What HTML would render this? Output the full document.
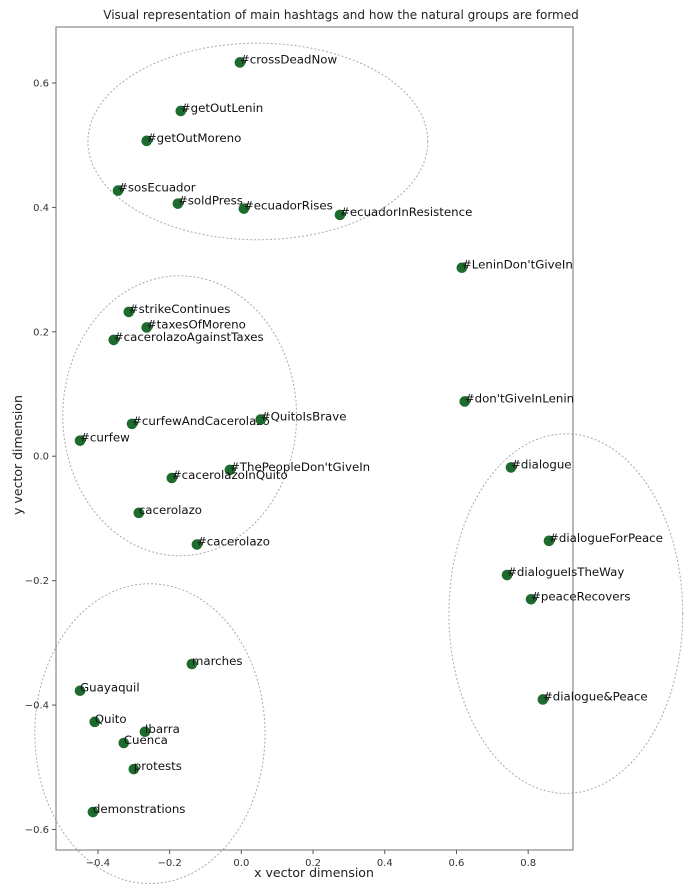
<!DOCTYPE html>
<html><head><meta charset="utf-8"><style>
body{margin:0;background:#fff;}
svg text{font-family:"DejaVu Sans","Liberation Sans",sans-serif;}
</style></head><body>
<svg id="chart" width="698" height="884" xmlns="http://www.w3.org/2000/svg">
<rect width="698" height="884" fill="#fff"/>
<text x="341" y="19" text-anchor="middle" font-size="12" fill="#222">Visual representation of main hashtags and how the natural groups are formed</text>
<g id="ellipses"></g>
<rect x="56" y="27" width="517" height="823" fill="none" stroke="#888" stroke-width="1.2"/>
<g id="axes"></g>
<g id="points"></g>
<text x="314" y="877" text-anchor="middle" font-size="12.5" fill="#222">x vector dimension</text>
<text transform="translate(22,455) rotate(-90)" text-anchor="middle" font-size="12.5" fill="#222">y vector dimension</text>
</svg>
<script>
const labels=["#crossDeadNow","#getOutLenin","#getOutMoreno","#sosEcuador","#soldPress","#ecuadorRises","#ecuadorInResistence","#LeninDon'tGiveIn","#strikeContinues","#taxesOfMoreno","#cacerolazoAgainstTaxes","#curfewAndCacerolazo","#QuitoIsBrave","#curfew","#ThePeopleDon'tGiveIn","#cacerolazoInQuito","cacerolazo","#cacerolazo","#don'tGiveInLenin","#dialogue","#dialogueForPeace","#dialogueIsTheWay","#peaceRecovers","#dialogue&Peace","marches","Guayaquil","Quito","Ibarra","Cuenca","protests","demonstrations"];
const xVals=[-0.004,-0.169,-0.264,-0.344,-0.177,0.007,0.275,0.615,-0.314,-0.264,-0.356,-0.305,0.054,-0.450,-0.032,-0.194,-0.286,-0.124,0.623,0.752,0.858,0.741,0.808,0.841,-0.138,-0.450,-0.409,-0.269,-0.328,-0.300,-0.414];
const yVals=[0.633,0.555,0.507,0.427,0.406,0.398,0.388,0.303,0.232,0.207,0.187,0.052,0.059,0.025,-0.022,-0.035,-0.091,-0.142,0.088,-0.018,-0.136,-0.191,-0.230,-0.391,-0.334,-0.377,-0.427,-0.443,-0.461,-0.503,-0.572];
const xTicks=[-0.4,-0.2,0.0,0.2,0.4,0.6,0.8];
const yTicks=[0.6,0.4,0.2,0.0,-0.2,-0.4,-0.6];
const groupCx=[0.046,-0.172,0.905,-0.255];
const groupCy=[0.506,0.065,-0.253,-0.446];
const groupRx=[0.474,0.326,0.326,0.321];
const groupRy=[0.158,0.225,0.289,0.241];

const X0=56,X1=573,Y0=27,Y1=850,xmin=-0.517,xmax=0.925,ymin=-0.633,ymax=0.690;
const sx=v=>X0+(v-xmin)/(xmax-xmin)*(X1-X0);
const sy=v=>Y1-(v-ymin)/(ymax-ymin)*(Y1-Y0);
const NS="http://www.w3.org/2000/svg";
function mk(t,a,p){const e=document.createElementNS(NS,t);for(const k in a)e.setAttribute(k,a[k]);p.appendChild(e);return e;}
const eg=document.getElementById('ellipses'),ag=document.getElementById('axes'),pg=document.getElementById('points');
for(let i=0;i<groupCx.length;i++){
 const cx=sx(groupCx[i]),cy=sy(groupCy[i]);
 const e=mk('ellipse',{cx:cx,cy:cy,rx:sx(groupCx[i]+groupRx[i])-cx,ry:cy-sy(groupCy[i]+groupRy[i]),fill:'none',stroke:'#aaa','stroke-width':1,'stroke-dasharray':'2,2'},eg);
 
 
}
xTicks.forEach(v=>{const x=sx(v);
 const l=mk('line',{x1:x,x2:x,y1:Y1,y2:Y1+4,stroke:'#555'},ag);
 
 
 const t=mk('text',{x:x,y:Y1+16,'text-anchor':'middle','font-size':10,fill:'#333'},ag);
 t.textContent=(v<0?'\u2212':'')+Math.abs(v).toFixed(1);
 
 
});
yTicks.forEach(v=>{const y=sy(v);
 const l=mk('line',{x1:X0-4,x2:X0,y1:y,y2:y,stroke:'#555'},ag);
 
 
 const t=mk('text',{x:X0-7,y:y+3.5,'text-anchor':'end','font-size':10,fill:'#333'},ag);
 t.textContent=(v<0?'\u2212':'')+Math.abs(v).toFixed(1);
 
 
});
labels.forEach((lab,i)=>{const x=sx(xVals[i]),y=sy(yVals[i]);
 const c=mk('circle',{cx:x,cy:y,r:5.3,fill:'#1e6b2e'},pg);
 
 
 const t=mk('text',{x:x,y:y+1,'font-size':11.8,fill:'#111'},pg);
 t.textContent=lab;
 
 
});
</script>
</body></html>
